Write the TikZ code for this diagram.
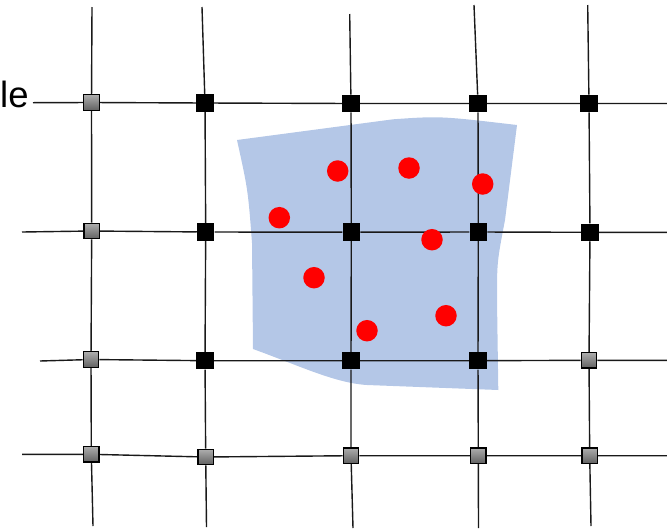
\documentclass[tikz,border=0pt]{standalone}
\usepackage{fontspec}
\setmainfont{Liberation Sans}
\definecolor{patchblue}{HTML}{B4C7E7}
\pgfdeclarelayer{bg}
\pgfsetlayers{bg,main}

\begin{document}
\begin{tikzpicture}[x=1pt, y=-1pt,
        idle/.style={rectangle, draw=black, line width=1.2pt,
            top color=black!32, bottom color=black!62,
            minimum size=15.5pt, inner sep=0pt},
        active/.style={rectangle, fill=black,
            minimum size=17.5pt, inner sep=0pt},
        particle/.style={circle, fill=red, minimum size=21.5pt, inner sep=0pt},
        gline/.style={line width=1.4pt, black!90}
      ]
      \useasboundingbox (0,0) rectangle (667,528);

      % Label at the left edge
      \node[anchor=base west, inner sep=0pt, font=\fontsize{36.5}{40}\selectfont]
        at (0,107) (lbl) {le};

      % Row 1 — y about 103
      \node[idle]   at (91.5,102.5) (g11) {};
      \node[active] at (205,  103)  (g12) {};
      \node[active] at (351,  103.5) (g13) {};
      \node[active] at (478,  103.5) (g14) {};
      \node[active] at (589,  103.5) (g15) {};

      % Row 2 — y about 232
      \node[idle]   at (91.7, 231)  (g21) {};
      \node[active] at (205.7,232)  (g22) {};
      \node[active] at (351.3,232.2) (g23) {};
      \node[active] at (478.3,232)  (g24) {};
      \node[active] at (590,  232.3) (g25) {};

      % Row 3 — y about 360
      \node[idle]   at (91,   359.5) (g31) {};
      \node[active] at (205,  360.7) (g32) {};
      \node[active] at (351,  360.7) (g33) {};
      \node[active] at (478,  360.7) (g34) {};
      \node[idle]   at (589,  360.3) (g35) {};

      % Row 4 — y about 456
      \node[idle]   at (91.3, 454.3) (g41) {};
      \node[idle]   at (205.7,457)  (g42) {};
      \node[idle]   at (351,  455.7) (g43) {};
      \node[idle]   at (478.3,455.7) (g44) {};
      \node[idle]   at (589.7,455.7) (g45) {};

      % Free ends of the grid lines
      \coordinate (v1t) at (92,   7);   \coordinate (v1b) at (93,   526);
      \coordinate (v2t) at (202,  7);   \coordinate (v2b) at (206.5,527);
      \coordinate (v3t) at (349.7,14);  \coordinate (v3b) at (353,  528);
      \coordinate (v4t) at (474,  5);   \coordinate (v4b) at (478.5,528);
      \coordinate (v5t) at (587.7,5);   \coordinate (v5b) at (591,  526);
      \coordinate (h1l) at (33,   102.7); \coordinate (h1r) at (667, 103.5);
      \coordinate (h2l) at (22,   232);   \coordinate (h2r) at (667, 232.3);
      \coordinate (h3l) at (40,   361);   \coordinate (h3r) at (667, 360.3);
      \coordinate (h4l) at (22,   454.3); \coordinate (h4r) at (667, 455.7);

      % Particles
      \node[particle] at (337.7,171)   (p1) {};
      \node[particle] at (409,  168)   (p2) {};
      \node[particle] at (482.7,184)   (p3) {};
      \node[particle] at (279.3,217.7) (p4) {};
      \node[particle] at (432,  239.7) (p5) {};
      \node[particle] at (314,  277.7) (p6) {};
      \node[particle] at (446,  315.7) (p7) {};
      \node[particle] at (367,  330.7) (p8) {};

      \begin{pgfonlayer}{bg}
        % Blue patch
        \fill[patchblue] (237,140) -- (393,119.3)
          .. controls (440,116) .. (517,125) -- (505,220)
          .. controls (497,262) .. (497,300) -- (498.3,390)
          -- (367,385) .. controls (335,383) and (300,366) .. (253,349)
          -- (252,243) .. controls (248,190) .. cycle;

        % Vertical lines
        \draw[gline] (v1t) -- (g11) -- (g21) -- (g31) -- (g41) -- (v1b);
        \draw[gline] (v2t) -- (g12) -- (g22) -- (g32) -- (g42) -- (v2b);
        \draw[gline] (v3t) -- (g13) -- (g23) -- (g33) -- (g43) -- (v3b);
        \draw[gline] (v4t) -- (g14) -- (g24) -- (g34) -- (g44) -- (v4b);
        \draw[gline] (v5t) -- (g15) -- (g25) -- (g35) -- (g45) -- (v5b);

        % Horizontal lines
        \draw[gline] (h1l) -- (g11) -- (g12) -- (g13) -- (g14) -- (g15) -- (h1r);
        \draw[gline] (h2l) -- (g21) -- (g22) -- (g23) -- (g24) -- (g25) -- (h2r);
        \draw[gline] (h3l) -- (g31) -- (g32) -- (g33) -- (g34) -- (g35) -- (h3r);
        \draw[gline] (h4l) -- (g41) -- (g42) -- (g43) -- (g44) -- (g45) -- (h4r);
      \end{pgfonlayer}
    \end{tikzpicture}
\end{document}
